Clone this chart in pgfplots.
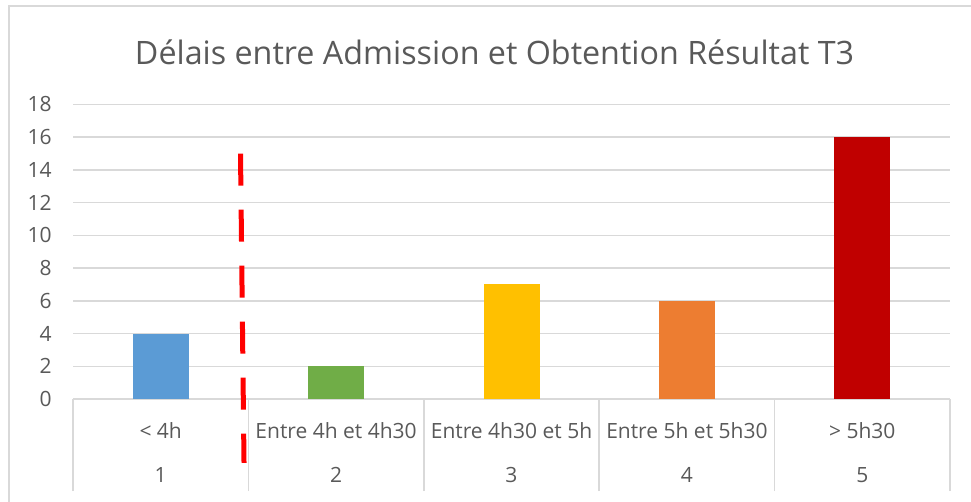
\documentclass[border=0pt]{standalone}
\usepackage{pgfplots}
\pgfplotsset{compat=1.18}
\usepackage{fontspec}
\setmainfont{Open Sans}
\definecolor{txt}{HTML}{595959}
\definecolor{grd}{HTML}{D9D9D9}
\definecolor{cblue}{HTML}{5B9BD5}
\definecolor{cgreen}{HTML}{70AD47}
\definecolor{cyellow}{HTML}{FFC000}
\definecolor{corange}{HTML}{ED7D31}
\definecolor{cred}{HTML}{C00000}
\begin{document}
\begin{tikzpicture}
\useasboundingbox (0,0) rectangle (728.25pt,376.5pt);
\draw[grd, line width=1.1pt] (728.25pt,372pt) -- (6.75pt,372pt) -- (6.75pt,0pt);
\begin{axis}[
  at={(54.75pt,77.25pt)}, anchor=south west,
  scale only axis, width=657.75pt, height=220.875pt,
  xmin=0.5, xmax=5.5, ymin=0, ymax=18,
  ytick={0,2,...,18},
  xtick={1,2,3,4,5},
  xticklabels={{< 4h},{Entre 4h et 4h30},{Entre 4h30 et 5h},{Entre 5h et 5h30},{> 5h30}},
  extra x ticks={1,2,3,4,5},
  extra x tick labels={1,2,3,4,5},
  extra x tick style={major tick length=0pt, xticklabel style={yshift=-33pt}},
  minor xtick={0.5,1.5,2.5,3.5,4.5,5.5},
  tick align=outside, tick pos=left,
  major tick length=0pt, minor tick length=69pt,
  minor tick style={grd, line width=1.1pt},
  axis line style={draw=none},
  ymajorgrids, major grid style={grd, line width=1.1pt},
  /pgf/number format/assume math mode=true,
  tick label style={font=\fontsize{15.75pt}{18pt}\selectfont, text=txt, inner sep=0pt},
  yticklabel style={anchor=east, xshift=-15.75pt},
  xticklabel style={anchor=base, yshift=-29.6pt},
  ybar, bar width=42pt, bar shift=0pt,
  clip=false,
]
\addplot[fill=cblue, draw=none] coordinates {(1,4)};
\addplot[fill=cgreen, draw=none] coordinates {(2,2)};
\addplot[fill=cyellow, draw=none] coordinates {(3,7)};
\addplot[fill=corange, draw=none] coordinates {(4,6)};
\addplot[fill=cred, draw=none] coordinates {(5,16)};
\addplot[sharp plot, draw={rgb,255:red,255;green,0;blue,0}, line width=3.75pt, dash pattern=on 24pt off 18pt] coordinates {(1.455,15) (1.475,-3.9)};
\end{axis}
\node[text=txt, font=\fontsize{24.2pt}{29pt}\selectfont] at (370.9pt,337.5pt) {Délais entre Admission et Obtention Résultat T3};
\end{tikzpicture}
\end{document}
